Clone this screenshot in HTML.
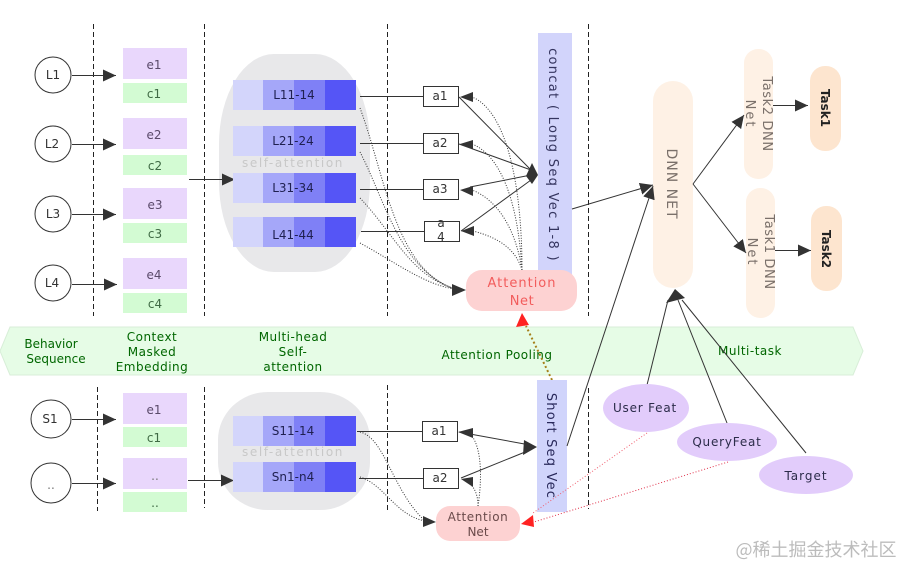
<!DOCTYPE html>
<html><head><meta charset="utf-8"><style>
html,body{margin:0;padding:0;background:#fff;width:915px;height:578px;overflow:hidden}
svg{display:block}
text{font-family:"DejaVu Sans","Liberation Sans","Noto Sans CJK SC",sans-serif;text-anchor:middle;font-size:12px;fill:#333}
.d{stroke:#222;stroke-width:1;stroke-dasharray:5 3;fill:none}
.l{stroke:#333;stroke-width:1;fill:none}
.dot{stroke:#333;stroke-width:1;stroke-dasharray:1 1.6;fill:none}
.e{fill:#e9d7fc}.c{fill:#d3fbd3}
.g{fill:#006600;font-size:12px;letter-spacing:.5px}
.t{font-size:12px;fill:#5a4a6a}
.t2{font-size:12px;fill:#3f6a44}
.bl{fill:#1f2050;font-size:12px}
.sa{fill:#c8c8c8;font-size:12px;letter-spacing:1.6px}
</style></head><body>
<svg width="915" height="578" viewBox="0 0 915 578" xmlns="http://www.w3.org/2000/svg">
<defs>
<marker id="a" markerUnits="userSpaceOnUse" markerWidth="14" markerHeight="12" refX="13" refY="6" orient="auto"><path d="M0 0L13 6L0 12Z" fill="#333"/></marker>
</defs>

<!-- banner -->
<polygon points="0,351 10,327 853,327 863,351 853,375 10,375" fill="#e6fce6" stroke="#d8eed8"/>

<!-- dashed -->
<g class="d">
<path d="M93.5 24V316M204.5 24V316M387.5 24V316M588.5 24V316"/>
<path d="M97.5 387V511M204.5 387V508M387.5 385V513M588.5 388V509"/>
</g>

<!-- gray blobs -->
<rect x="219" y="54" width="151" height="218" rx="55" ry="90" fill="#e8e8ea"/>
<rect x="218" y="392" width="152" height="118" rx="50" ry="48" fill="#e8e8ea"/>

<!-- circles -->
<g fill="#fff" stroke="#333">
<circle cx="53" cy="75" r="18"/><circle cx="53" cy="144" r="18"/><circle cx="53" cy="214" r="18"/><circle cx="53" cy="283" r="18"/>
<ellipse cx="51" cy="419" rx="20" ry="19"/><ellipse cx="51" cy="483" rx="20" ry="20"/>
</g>
<text x="53" y="79">L1</text><text x="52" y="148">L2</text><text x="53" y="218">L3</text><text x="52" y="287">L4</text>
<text x="50" y="423">S1</text><text x="51" y="489" style="fill:#777">..</text>

<!-- embeddings -->
<rect class="e" x="123" y="48" width="64" height="31"/><rect class="c" x="123" y="83" width="64" height="20"/>
<rect class="e" x="123" y="118" width="64" height="31"/><rect class="c" x="123" y="155" width="64" height="20"/>
<rect class="e" x="123" y="188" width="64" height="31"/><rect class="c" x="123" y="223" width="64" height="20"/>
<rect class="e" x="123" y="258" width="64" height="31"/><rect class="c" x="123" y="293" width="64" height="20"/>
<rect class="e" x="123" y="393" width="64" height="31"/><rect class="c" x="123" y="427" width="64" height="20"/>
<rect class="e" x="123" y="458" width="64" height="31"/><rect class="c" x="123" y="492" width="64" height="20"/>
<text class="t" x="154" y="69">e1</text><text class="t2" x="154" y="98">c1</text>
<text class="t" x="154" y="139">e2</text><text class="t2" x="155" y="170">c2</text>
<text class="t" x="155" y="209">e3</text><text class="t2" x="155" y="238">c3</text>
<text class="t" x="154" y="279">e4</text><text class="t2" x="155" y="308">c4</text>
<text class="t" x="154" y="414">e1</text><text class="t2" x="154" y="442">c1</text>
<text class="t" x="155" y="480" style="fill:#777">..</text><text class="t2" x="155" y="507">..</text>

<!-- arrows left -->
<g class="l">
<path d="M72 75.500H116" marker-end="url(#a)"/>
<path d="M72 144.500H116" marker-end="url(#a)"/>
<path d="M72 214.500H116" marker-end="url(#a)"/>
<path d="M72 284.500H117" marker-end="url(#a)"/>
<path d="M72 419.500H116" marker-end="url(#a)"/>
<path d="M72 483.500H116" marker-end="url(#a)"/>
<path d="M189 179.500H235" marker-end="url(#a)"/>
<path d="M188 480.500H234" marker-end="url(#a)"/>
</g>

<!-- rows -->
<g>
<rect x="233" y="80" width="31" height="30" fill="#d3d5fb"/><rect x="263" y="80" width="31" height="30" fill="#a5a7f9"/><rect x="294" y="80" width="31" height="30" fill="#7f80f6"/><rect x="325" y="80" width="31" height="30" fill="#5555f6"/>
<rect x="233" y="126" width="31" height="30" fill="#d3d5fb"/><rect x="263" y="126" width="31" height="30" fill="#a5a7f9"/><rect x="294" y="126" width="31" height="30" fill="#7f80f6"/><rect x="325" y="126" width="31" height="30" fill="#5555f6"/>
<rect x="233" y="173" width="31" height="30" fill="#d3d5fb"/><rect x="263" y="173" width="31" height="30" fill="#a5a7f9"/><rect x="294" y="173" width="31" height="30" fill="#7f80f6"/><rect x="325" y="173" width="31" height="30" fill="#5555f6"/>
<rect x="233" y="217" width="31" height="30" fill="#d3d5fb"/><rect x="263" y="217" width="31" height="30" fill="#a5a7f9"/><rect x="294" y="217" width="31" height="30" fill="#7f80f6"/><rect x="325" y="217" width="31" height="30" fill="#5555f6"/>
<rect x="233" y="416" width="31" height="30" fill="#d3d5fb"/><rect x="263" y="416" width="31" height="30" fill="#a5a7f9"/><rect x="294" y="416" width="31" height="30" fill="#7f80f6"/><rect x="325" y="416" width="31" height="30" fill="#5555f6"/>
<rect x="233" y="462" width="31" height="30" fill="#d3d5fb"/><rect x="263" y="462" width="31" height="30" fill="#a5a7f9"/><rect x="294" y="462" width="31" height="30" fill="#7f80f6"/><rect x="325" y="462" width="31" height="30" fill="#5555f6"/>
</g>
<text class="bl" x="294" y="99">L11-14</text>
<text class="bl" x="293" y="145">L21-24</text>
<text class="bl" x="293" y="192">L31-34</text>
<text class="bl" x="293" y="239">L41-44</text>
<text class="bl" x="293" y="435">S11-14</text>
<text class="bl" x="293" y="481">Sn1-n4</text>
<text class="sa" x="293" y="167">self-attention</text>
<text class="sa" x="293" y="456">self-attention</text>

<!-- a boxes -->
<g fill="#fff" stroke="#333">
<rect x="423.500" y="86.500" width="35" height="20"/>
<rect x="423.500" y="133.500" width="35" height="20"/>
<rect x="423.500" y="179.500" width="35" height="20"/>
<rect x="424.500" y="221.500" width="35" height="20"/>
<rect x="422.500" y="421.500" width="35" height="20"/>
<rect x="423.500" y="468.500" width="35" height="20"/>
</g>
<text x="440" y="100">a1</text><text x="440" y="147">a2</text><text x="440" y="193">a3</text>
<text x="441" y="227">a</text><text x="441" y="241">4</text>
<text x="439" y="435">a1</text><text x="440" y="482">a2</text>

<!-- row to box -->
<g class="l">
<path d="M360 96.500H423M360 143.500H423M360 189.500H423M361 231.500H424M357 431.500H422M359 478.500H423"/>
</g>

<!-- long concat -->
<rect x="538" y="33" width="34" height="244" fill="#d2d4fb"/>
<text transform="translate(549,155) rotate(90)" style="font-size:13px;letter-spacing:1.3px;fill:#35355f">concat ( Long Seq Vec 1-8 )</text>

<!-- to diamond -->
<g class="l">
<path d="M459 97L531 170"/>
<path d="M459 144L531 170"/>
<path d="M470 187L531 175"/>
<path d="M461 231L531 180"/>
</g>
<path d="M532 163L538 175L532 184L526 176Z" fill="#333"/>
<path d="M460 144L473 140V149Z M460 190L473 186V196Z M460 97L473 92V102Z M461 231L474 226V236Z" fill="#333"/>

<!-- dotted back to a boxes -->
<g class="dot">
<path d="M522 270C522 180 505 110 472 97"/>
<path d="M522 270C518 200 500 155 472 144"/>
<path d="M522 270C516 230 498 200 472 190"/>
<path d="M522 270C516 250 500 238 473 231"/>
<path d="M360 108C385 175 395 270 455 289"/>
<path d="M360 152C385 200 400 270 455 289"/>
<path d="M360 198C395 235 410 275 455 289"/>
<path d="M360 243C395 262 425 285 455 289"/>
</g>
<path d="M466 290L452 284V296Z" fill="#333"/>

<!-- attention nets -->
<rect x="466" y="270" width="111" height="41" rx="16" fill="#fdd2d2"/>
<text x="522" y="287" style="fill:#f25c5c;font-size:13px;letter-spacing:1px">Attention</text>
<text x="522" y="305" style="fill:#f25c5c;font-size:13px;letter-spacing:.6px">Net</text>
<rect x="436" y="506" width="84" height="35" rx="14" fill="#fdd2d2"/>
<text x="478" y="521" style="fill:#6a4a4a;font-size:12px;letter-spacing:.6px">Attention</text>
<text x="478" y="536" style="fill:#6a4a4a;font-size:12px">Net</text>

<!-- banner labels -->
<text class="g" x="51" y="348" style="letter-spacing:0">Behavior</text><text class="g" x="56" y="363" style="letter-spacing:0">Sequence</text>
<text class="g" x="152" y="341">Context</text><text class="g" x="152" y="356">Masked</text><text class="g" x="152" y="371">Embedding</text>
<text class="g" x="293" y="341">Multi-head</text><text class="g" x="293" y="356">Self-</text><text class="g" x="293" y="371">attention</text>
<text class="g" x="497" y="359">Attention Pooling</text>
<text class="g" x="750" y="355">Multi-task</text>

<!-- orange dotted -->
<path d="M552 380L526 326" stroke="#a5801a" stroke-width="2" stroke-dasharray="2 2.5" fill="none"/>
<path d="M522 313L516 327L529 325Z" fill="#f22"/>

<!-- short seq -->
<rect x="537" y="380" width="30" height="132" fill="#d0d4fb"/>
<text transform="translate(547,446) rotate(90)" style="fill:#28285a;font-size:13px;letter-spacing:1.2px">Short Seq Vec</text>

<!-- short arrows -->
<g class="l">
<path d="M459 432L530 445"/>
<path d="M461 478L530 450"/>
</g>
<path d="M537 447L524 440L523 455Z" fill="#333"/>
<path d="M458 432L473 428V438Z M461 479L473 477V487Z" fill="#333"/>
<g class="dot">
<path d="M478 506C482 480 482 450 472 436"/>
<path d="M478 506C478 500 477 492 472 486"/>
<path d="M360 432C385 438 392 490 425 521"/>
<path d="M360 477C385 485 395 515 425 521"/>
</g>
<path d="M436 522L423 516V527Z" fill="#333"/>

<!-- DNN -->
<rect x="653" y="81" width="40" height="207" rx="20" fill="#fef1e5"/>
<text transform="translate(667,184) rotate(90)" style="fill:#7a706a;font-size:14px;letter-spacing:1px">DNN NET</text>
<rect x="744" y="49" width="29" height="130" rx="14" fill="#fef1e5"/>
<rect x="746" y="188" width="29" height="130" rx="14" fill="#fef1e5"/>
<text transform="translate(763,114) rotate(90)" style="fill:#7a706a;font-size:13px;letter-spacing:.6px">Task2 DNN</text>
<text transform="translate(746,114) rotate(90)" style="fill:#7a706a;font-size:13px;letter-spacing:2px">Net</text>
<text transform="translate(765,252) rotate(90)" style="fill:#7a706a;font-size:13px;letter-spacing:.6px">Task1 DNN</text>
<text transform="translate(748,252) rotate(90)" style="fill:#7a706a;font-size:13px;letter-spacing:2px">Net</text>
<rect x="810" y="66" width="31" height="85" rx="15" fill="#fde5cf"/>
<rect x="811" y="206" width="31" height="85" rx="15" fill="#fde5cf"/>
<text transform="translate(821,108) rotate(90)" style="fill:#222;font-size:12px;font-weight:bold">Task1</text>
<text transform="translate(822,249) rotate(90)" style="fill:#222;font-size:12px;font-weight:bold">Task2</text>

<!-- right arrows -->
<g class="l">
<path d="M693 184L744 115" marker-end="url(#a)"/>
<path d="M693 184L746 253" marker-end="url(#a)"/>
<path d="M773 105.500H808" marker-end="url(#a)"/>
<path d="M775 250.500H811" marker-end="url(#a)"/>
<path d="M572 209L653 185" marker-end="url(#a)"/>
<path d="M567 446L653 186" marker-end="url(#a)"/>
<path d="M647 385L668 300"/>
<path d="M727 423L678 300"/>
<path d="M806 453L682 300"/>
</g>
<path d="M675 289L666 303L685 298Z" fill="#333"/>

<!-- ellipses -->
<ellipse cx="646" cy="408" rx="43" ry="24" fill="#e2ccfb"/>
<ellipse cx="727" cy="442" rx="50" ry="19" fill="#e2ccfb"/>
<ellipse cx="806" cy="475" rx="47" ry="19" fill="#e2ccfb"/>
<text x="645" y="412" style="fill:#2c2c4a;font-size:12px;letter-spacing:.8px">User Feat</text>
<text x="727" y="446" style="fill:#2c2c4a;font-size:12px;letter-spacing:.8px">QueryFeat</text>
<text x="806" y="480" style="fill:#2c2c4a;font-size:12px;letter-spacing:1px">Target</text>

<!-- red dotted -->
<path d="M647 433L533 513" stroke="#f06070" stroke-dasharray="1 2" fill="none"/>
<path d="M728 462L534 522" stroke="#e0304a" stroke-dasharray="1 2" fill="none"/>
<path d="M521 524L533 515L534 527Z" fill="#f22"/>

<!-- watermark -->
<text x="816" y="556" style="fill:#bcbcbc;font-size:18px;font-family:'Noto Sans CJK SC','DejaVu Sans',sans-serif">@稀土掘金技术社区</text>
</svg>
</body></html>
